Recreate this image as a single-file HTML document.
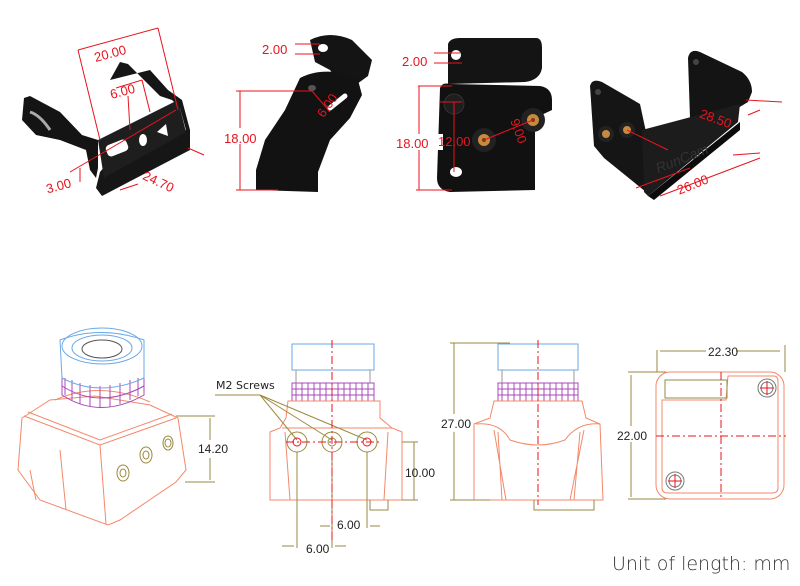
<!DOCTYPE html>
<html><head><meta charset="utf-8"><style>
html,body{margin:0;padding:0;background:#fff}
svg{display:block}
text{font-family:"Liberation Sans",sans-serif}
.r{fill:#e8141e;font-size:13px;font-family:"Liberation Sans Narrow","Liberation Sans",sans-serif}
.k{fill:#222;font-size:12px;font-family:"Liberation Sans Narrow","Liberation Sans",sans-serif}
.rl{stroke:#e8141e;stroke-width:1;fill:none}
.o{stroke:#f4886a;stroke-width:1;fill:none}
.ol{stroke:#9a8a40;stroke-width:1;fill:none}
.p{stroke:#a848b8;stroke-width:1;fill:none}
.b{stroke:#6aa8e8;stroke-width:1;fill:none}
.c{stroke:#e8141e;stroke-width:1;fill:none;stroke-dasharray:8 3 2 3}
</style></head><body>
<svg width="800" height="586" viewBox="0 0 800 586" xmlns="http://www.w3.org/2000/svg">
<!-- Bracket 1 -->
<path d="M24,98 L30,96 L60,112 L82,135 L98,140 L98,168 L96,178 L90,170 L86,150 L60,140 L36,135 L22,120 Z" fill="#141414"/>
<path d="M110,80 L120,62 L128,64 L146,82 L160,96 L172,100 L180,108 L186,130 L110,160 L100,172 L96,188 L102,196 L190,150 L190,130 L182,100 L168,90 L150,70 Z" fill="#161616"/>
<path d="M98,140 L178,100 L186,132 L104,178 Z" fill="#1e1e1e"/>
<rect x="106" y="142" width="22" height="12" rx="4" fill="#fff" transform="rotate(-22 117 148)"/>
<ellipse cx="143" cy="140" rx="4" ry="6" fill="#fff"/>
<path d="M157,132 L166,124 L168,136 Z" fill="#fff"/>
<path d="M30,112 Q40,115 50,130" stroke="#aaa" stroke-width="3" fill="none"/>
<g class="rl"><path d="M78,50 L158,28"/><path d="M78,50 L100,140"/><path d="M158,28 L178,110"/><path d="M116,88 L142,80"/><path d="M70,172 L176,110"/><path d="M80,168 L80,182"/><path d="M120,190 L138,184"/><path d="M188,148 L204,155"/><path d="M128,96 L130,130"/><path d="M142,80 L150,112"/></g>
<text class="r" x="94" y="58" transform="rotate(-15 110 54)">20.00</text>
<text class="r" x="110" y="96" transform="rotate(-15 122 92)">6.00</text>
<text class="r" x="46" y="190" transform="rotate(-15 60 186)">3.00</text>
<text class="r" x="142" y="186" transform="rotate(25 158 182)">24.70</text>
<!-- Bracket 2 -->
<path d="M310,40 Q330,30 352,40 L372,60 L368,76 L346,92 L330,70 L315,62 Z" fill="#141414"/>
<ellipse cx="323" cy="48" rx="5" ry="4" fill="#fff"/>
<path d="M300,78 Q315,70 335,72 L358,80 L362,95 L350,118 L330,140 L318,172 L318,192 L256,190 L256,170 L265,140 L285,110 Z" fill="#121212"/>
<ellipse cx="312" cy="88" rx="4" ry="3" fill="#555"/>
<path d="M330,108 L345,96" stroke="#fff" stroke-width="5" stroke-linecap="round"/>
<g class="rl"><path d="M295,44 L320,44"/><path d="M295,54 L320,54"/><path d="M236,91 L312,91"/><path d="M240,91 L240,190"/><path d="M236,190 L278,190"/><path d="M312,91 L330,112"/></g>
<rect x="228" y="128" width="24" height="16" fill="#fff"/>
<text class="r" x="262" y="54">2.00</text>
<text class="r" x="224" y="143">18.00</text>
<text class="r" x="312" y="112" transform="rotate(-55 324 104)">6.00</text>
<!-- Bracket 3 -->
<path d="M448,44 Q450,38 460,38 L536,38 Q542,38 542,48 L542,68 Q540,80 525,82 L448,84 Z" fill="#141414"/>
<ellipse cx="456" cy="55" rx="5" ry="5" fill="#fff"/>
<path d="M440,88 Q442,82 450,84 L540,86 Q552,88 552,100 L552,110 L535,118 L535,190 L450,192 Q437,190 437,178 Z" fill="#111"/>
<circle cx="454" cy="104" r="10" fill="#1e1e1e" stroke="#333"/>
<circle cx="533" cy="120" r="12" fill="#222"/><circle cx="533" cy="120" r="6" fill="#c88a40"/><circle cx="533" cy="120" r="2" fill="#704010"/>
<circle cx="484" cy="140" r="12" fill="#222"/><circle cx="484" cy="140" r="6" fill="#c88a40"/><circle cx="484" cy="140" r="2" fill="#704010"/>
<ellipse cx="456" cy="172" rx="6" ry="5" fill="#fff"/>
<g class="rl"><path d="M434,53 L460,53"/><path d="M434,63 L462,63"/><path d="M418,86 L452,86"/><path d="M419,86 L419,190"/><path d="M416,190 L452,190"/><path d="M440,102 L462,102"/><path d="M454,102 L454,172"/><path d="M484,140 L533,120"/></g>
<rect x="395" y="134" width="48" height="16" fill="#fff"/>
<text class="r" x="396" y="148">18.00</text>
<text class="r" x="402" y="66">2.00</text>
<text class="r" x="438" y="146">12.00</text>
<text class="r" x="498" y="122" transform="rotate(70 505 130)">9.00</text>
<!-- Bracket 4 -->
<path d="M688,58 Q690,48 700,52 L742,72 Q752,80 752,92 L748,102 L738,108 L738,112 L690,118 Z" fill="#141414"/>
<path d="M590,86 Q592,78 602,82 L640,104 L646,132 L646,192 L604,158 L594,146 Z" fill="#151515"/>
<path d="M642,130 L740,104 L738,122 L648,196 L644,192 Z" fill="#1c1c1c"/>
<path d="M648,196 L740,122 L740,130 L654,200 Z" fill="#0c0c0c"/>
<circle cx="606" cy="134" r="8" fill="#222"/><circle cx="606" cy="134" r="4" fill="#c88a40"/>
<circle cx="627" cy="130" r="8" fill="#222"/><circle cx="627" cy="130" r="4" fill="#c88a40"/>
<circle cx="598" cy="92" r="3" fill="#444"/><circle cx="696" cy="62" r="3" fill="#444"/>
<text x="654" y="164" fill="#333" font-size="14" font-style="italic" transform="rotate(-22 680 158)">RunCam</text>
<g class="rl"><path d="M627,130 L668,150"/><path d="M746,100 L782,102"/><path d="M748,115 L760,110"/><path d="M636,188 L690,168"/><path d="M733,155 L760,153"/><path d="M660,196 L760,158"/></g>
<text class="r" x="698" y="122" transform="rotate(20 712 122)">28.50</text>
<text class="r" x="676" y="190" transform="rotate(-22 690 184)">26.00</text>

<!-- iso camera -->
<g class="o">
<path d="M22,418 L50,400 L95,396 L150,405 L178,418 L186,470 L176,482 L120,520 L108,525 L40,500 L18,470 Z"/>
<path d="M24,416 L100,445 L176,418"/><path d="M28,412 L100,440 L172,414"/>
<path d="M100,445 L106,524"/><path d="M30,470 L36,500"/><path d="M60,450 L66,510"/>
<path d="M55,400 Q100,380 150,402"/>
</g>
<g class="ol"><ellipse cx="123" cy="473" rx="6" ry="8"/><ellipse cx="146" cy="455" rx="6" ry="8"/><ellipse cx="168" cy="443" rx="5" ry="7"/>
<ellipse cx="123" cy="473" rx="3" ry="4"/><ellipse cx="146" cy="455" rx="3" ry="4"/><ellipse cx="168" cy="443" rx="3" ry="4"/>
<path d="M176,416 L215,416"/><path d="M185,482 L215,482"/><path d="M210,418 L210,480"/></g>
<g class="p"><path d="M62,376 L62,395 Q100,420 144,395 L144,376"/>
<path d="M62,386 Q100,410 144,386"/><path d="M65,395 L65,378 M72,400 L72,380 M80,404 L80,383 M90,407 L90,385 M100,408 L100,386 M110,407 L110,385 M120,404 L120,383 M130,400 L130,380 M138,396 L138,378"/></g>
<g class="b"><path d="M60,340 Q100,325 144,340 L144,378 Q100,398 62,378 Z"/><ellipse cx="102" cy="346" rx="40" ry="18"/><ellipse cx="102" cy="348" rx="30" ry="13"/></g>
<ellipse cx="102" cy="349" rx="20" ry="9" fill="none" stroke="#555"/>
<rect x="196" y="440" width="26" height="18" fill="#fff"/>
<text class="k" x="198" y="453">14.20</text>
<!-- front view -->
<g class="b"><rect x="292" y="344" width="82" height="26"/></g>
<g class="p"><rect x="292" y="383" width="82" height="18"/><path d="M296,383v18M302,383v18M308,383v18M314,383v18M320,383v18M326,383v18M332,383v18M338,383v18M344,383v18M350,383v18M356,383v18M362,383v18M368,383v18M292,389h82M292,395h82"/></g>
<path d="M296,370 V383 M370,370 V383" stroke="#999"/>
<g class="o"><path d="M288,401 L380,401 L380,418 L392,428 L402,432 L402,500 L270,500 L270,432 L280,428 L286,418 Z"/><path d="M282,428 L392,428"/><path d="M285,432 L290,500 M388,432 L384,500"/></g>
<g class="ol"><path d="M370,500 L370,510 L388,510 L388,500"/><circle cx="297" cy="442" r="10"/><circle cx="332" cy="442" r="10"/><circle cx="367" cy="442" r="10"/><circle cx="332" cy="442" r="4"/>
<path d="M297,452 V548 M332,452 V548 M367,452 V528"/><path d="M282,546 H294 M335,546 H346"/><path d="M320,526 H330 M370,526 H380"/>
<path d="M402,442 L418,442 M402,500 L418,500 M414,442 V500"/>
<path d="M215,395 L260,395 L297,440 M260,395 L332,440 M260,395 L367,440"/></g>
<g class="c"><path d="M332,340 V540"/><path d="M286,442 H380"/></g>
<circle cx="297" cy="442" r="4" stroke="#e8141e" fill="none"/><circle cx="367" cy="442" r="4" stroke="#e8141e" fill="none"/>
<text class="k" x="216" y="389" style="font-family:'DejaVu Sans',sans-serif;font-size:11px">M2 Screws</text>
<text class="k" x="337" y="529">6.00</text>
<text class="k" x="306" y="553">6.00</text>
<text class="k" x="405" y="477">10.00</text>
<!-- side view -->
<g class="b"><rect x="498" y="344" width="80" height="26"/></g>
<g class="p"><rect x="498" y="383" width="80" height="18"/><path d="M502,383v18M508,383v18M514,383v18M520,383v18M526,383v18M532,383v18M538,383v18M544,383v18M550,383v18M556,383v18M562,383v18M568,383v18M574,383v18M498,389h80M498,395h80"/></g>
<path d="M502,370 V383 M574,370 V383" stroke="#999"/>
<g class="o"><path d="M494,401 L582,401 L586,418 L600,424 L603,500 L474,500 L474,424 L490,418 Z"/><path d="M476,424 Q500,422 510,440 Q538,450 565,440 Q578,422 600,424"/><path d="M494,430 L506,500 M584,430 L570,500 M498,432 L502,500 M580,432 L574,500"/></g>
<g class="ol"><path d="M534,500 V510 H594 V500"/><path d="M450,343 H510 M450,500 H490 M454,343 V500"/></g>
<g class="c"><path d="M538,340 V505"/></g>
<rect x="440" y="414" width="30" height="18" fill="#fff"/>
<text class="k" x="441" y="428">27.00</text>
<!-- bottom view -->
<g class="o"><rect x="656" y="372" width="128" height="127" rx="14"/><path d="M728,376 H774 Q778,376 778,382 V488 Q778,493 772,493 H668 Q662,493 662,488 V400 H726 Z"/></g>
<g class="ol"><rect x="665" y="380" width="62" height="18"/><path d="M657,350 V372 M785,345 V372 M660,351 H780 M628,372 H666 M628,499 H666 M631,375 V497"/></g>
<g class="c"><path d="M721,372 V500"/><path d="M656,436 H786"/></g>
<g stroke="#777" fill="none"><circle cx="767" cy="388" r="9"/><circle cx="767" cy="388" r="6"/><circle cx="675" cy="481" r="9"/><circle cx="675" cy="481" r="6"/></g>
<g stroke="#e8141e"><path d="M760,388h14M767,381v14M668,481h14M675,474v14"/></g>
<rect x="706" y="343" width="30" height="16" fill="#fff"/>
<rect x="616" y="426" width="30" height="16" fill="#fff"/>
<text class="k" x="708" y="356">22.30</text>
<text class="k" x="617" y="440">22.00</text>
<text x="612" y="570" fill="#333" font-size="19" style="font-family:'DejaVu Sans',sans-serif;font-weight:300">Unit of length: mm</text>
</svg>
</body></html>
